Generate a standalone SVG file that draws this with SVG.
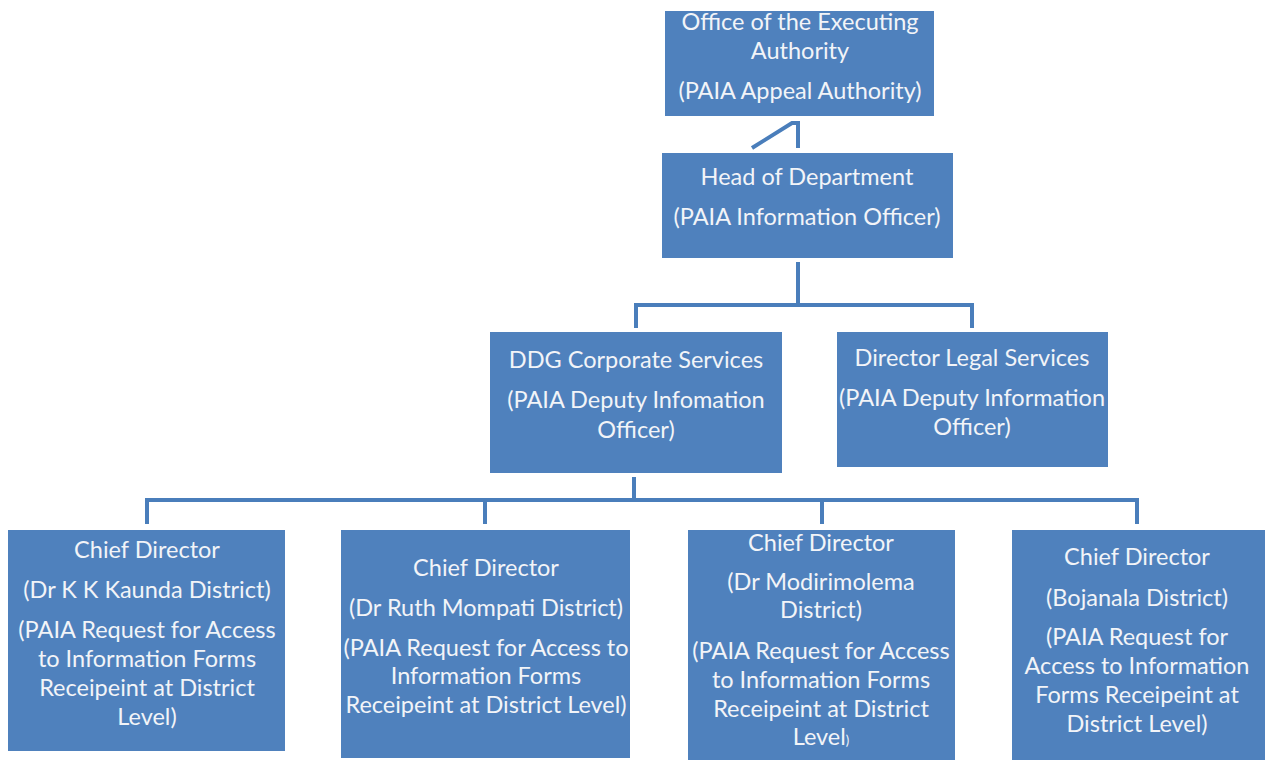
<svg xmlns="http://www.w3.org/2000/svg" width="1268" height="760" viewBox="0 0 1268 760">
<style>
.box{fill:#4f81bd}
.t{font-family:Lato,"Open Sans","Liberation Sans",sans-serif;font-size:23.5px;fill:#f2f4f8;text-anchor:middle}
.c{fill:none;stroke:#4a7ebb;stroke-width:4}
</style>
<rect width="1268" height="760" fill="#ffffff"/>
<g id="connectors">
<path class="c" d="M752 148 L792 123 L798 123 L798 148"/>
<path class="c" d="M798 262 L798 305 M636 328 L636 305 L972 305 L972 328"/>
<path class="c" d="M634 477 L634 500 M147 524 L147 500 L1137 500 L1137 524 M485 500 L485 524 M822 500 L822 524"/>
</g>
<g id="n-office">
<rect class="box" x="665" y="11" width="269" height="105"/>
<text class="t" x="800" y="30">Office of the Executing</text>
<text class="t" x="800" y="59">Authority</text>
<text class="t" x="800" y="99">(PAIA Appeal Authority)</text>
</g>
<g id="n-hod">
<rect class="box" x="662" y="153" width="291" height="105"/>
<text class="t" x="807" y="185">Head of Department</text>
<text class="t" x="807" y="225">(PAIA Information Officer)</text>
</g>
<g id="n-ddg">
<rect class="box" x="490" y="332" width="292" height="141"/>
<text class="t" x="636" y="368">DDG Corporate Services</text>
<text class="t" x="636" y="408">(PAIA Deputy Infomation</text>
<text class="t" x="636" y="438">Officer)</text>
</g>
<g id="n-legal">
<rect class="box" x="837" y="332" width="271" height="135"/>
<text class="t" x="972" y="366">Director Legal Services</text>
<text class="t" x="972" y="406">(PAIA Deputy Information</text>
<text class="t" x="972" y="435">Officer)</text>
</g>
<g id="n-cd1">
<rect class="box" x="8" y="530" width="277" height="221"/>
<text class="t" x="147" y="558">Chief Director</text>
<text class="t" x="147" y="598">(Dr K K Kaunda District)</text>
<text class="t" x="147" y="638">(PAIA Request for Access</text>
<text class="t" x="147" y="667">to Information Forms</text>
<text class="t" x="147" y="696">Receipeint at District</text>
<text class="t" x="147" y="725">Level)</text>
</g>
<g id="n-cd2">
<rect class="box" x="341" y="530" width="289" height="228"/>
<text class="t" x="486" y="576">Chief Director</text>
<text class="t" x="486" y="616">(Dr Ruth Mompati District)</text>
<text class="t" x="486" y="656">(PAIA Request for Access to</text>
<text class="t" x="486" y="684">Information Forms</text>
<text class="t" x="486" y="713">Receipeint at District Level)</text>
</g>
<g id="n-cd3">
<rect class="box" x="688" y="530" width="267" height="232"/>
<text class="t" x="821" y="551">Chief Director</text>
<text class="t" x="821" y="590">(Dr Modirimolema</text>
<text class="t" x="821" y="618">District)</text>
<text class="t" x="821" y="659">(PAIA Request for Access</text>
<text class="t" x="821" y="688">to Information Forms</text>
<text class="t" x="821" y="717">Receipeint at District</text>
<text class="t" x="821" y="745">Level<tspan font-size="13">)</tspan></text>
</g>
<g id="n-cd4">
<rect class="box" x="1012" y="530" width="253" height="232"/>
<text class="t" x="1137" y="565">Chief Director</text>
<text class="t" x="1137" y="606">(Bojanala District)</text>
<text class="t" x="1137" y="645">(PAIA Request for</text>
<text class="t" x="1137" y="674">Access to Information</text>
<text class="t" x="1137" y="703">Forms Receipeint at</text>
<text class="t" x="1137" y="732">District Level)</text>
</g>
</svg>
